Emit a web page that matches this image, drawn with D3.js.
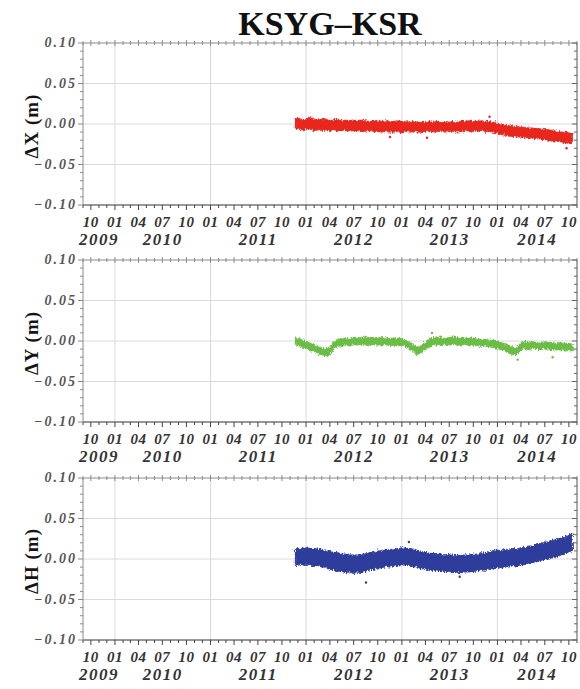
<!DOCTYPE html>
<html lang="en">
<head>
<meta charset="UTF-8">
<script src="https://cdn.jsdelivr.net/npm/d3@7"></script>
<title>KSYG-KSR</title>
<style>
    body { margin: 0; background: #fff; }
</style>
</head>
<body>
<div id="chart"></div>
<script>
// sample dates (about every half month) of the daily solution cloud
const dates = [
    "2011-11-21", "2011-12-01", "2011-12-15",
    "2012-01-01", "2012-01-15", "2012-02-01", "2012-02-15", "2012-03-01", "2012-03-15",
    "2012-04-01", "2012-04-15", "2012-05-01", "2012-05-15", "2012-06-01", "2012-06-15",
    "2012-07-01", "2012-07-15", "2012-08-01", "2012-08-15", "2012-09-01", "2012-09-15",
    "2012-10-01", "2012-10-15", "2012-11-01", "2012-11-15", "2012-12-01", "2012-12-15",
    "2013-01-01", "2013-01-15", "2013-02-01", "2013-02-15", "2013-03-01", "2013-03-15",
    "2013-04-01", "2013-04-15", "2013-05-01", "2013-05-15", "2013-06-01", "2013-06-15",
    "2013-07-01", "2013-07-15", "2013-08-01", "2013-08-15", "2013-09-01", "2013-09-15",
    "2013-10-01", "2013-10-15", "2013-11-01", "2013-11-15", "2013-12-01", "2013-12-15",
    "2014-01-01", "2014-01-15", "2014-02-01", "2014-02-15", "2014-03-01", "2014-03-15",
    "2014-04-01", "2014-04-15", "2014-05-01", "2014-05-15", "2014-06-01", "2014-06-15",
    "2014-07-01", "2014-07-15", "2014-08-01", "2014-08-15", "2014-09-01", "2014-09-15",
    "2014-10-01", "2014-10-14"
];

// lower / upper edge of each cloud, in mm
const dxLo = [-5, -6, -7, -7, -6, -8, -7, -8, -7, -9, -7, -8, -8, -7, -9, -8, -8, -9, -9, -8,
    -10, -9, -10, -9, -10, -10, -9, -11, -9, -10, -9, -10, -10, -9, -9, -10, -9, -9, -10, -9,
    -9, -10, -9, -8, -9, -8, -9, -8, -9, -9, -10, -11, -13, -14, -15, -15, -16, -16, -17, -17,
    -18, -18, -19, -19, -20, -21, -21, -22, -23, -24, -24];
const dxHi = [6, 7, 6, 5, 8, 6, 5, 6, 6, 4, 5, 6, 4, 5, 4, 5, 4, 5, 4, 3,
    4, 4, 3, 4, 3, 3, 4, 3, 3, 2, 3, 3, 2, 2, 3, 2, 3, 2, 3, 2,
    3, 2, 3, 3, 4, 3, 3, 4, 3, 3, 2, 1, -1, -2, -2, -3, -3, -4, -4, -5,
    -5, -6, -6, -7, -7, -8, -9, -10, -10, -11, -12];

const dyLo = [-4, -6, -7, -9, -12, -13, -16, -17, -18, -18, -8, -7, -6, -5, -6, -4, -5, -4, -4, -5,
    -4, -5, -5, -4, -6, -5, -6, -5, -7, -11, -13, -17, -14, -11, -7, -5, -5, -4, -4, -5,
    -4, -5, -5, -4, -6, -5, -6, -7, -6, -7, -8, -9, -11, -13, -15, -17, -17, -11, -9, -11,
    -9, -10, -11, -9, -10, -11, -11, -11, -11, -12, -12];
const dyHi = [4, 3, 2, -1, -3, -4, -7, -9, -9, -9, 0, 2, 3, 3, 3, 5, 4, 4, 5, 4,
    4, 4, 4, 4, 3, 4, 3, 3, 1, -2, -5, -8, -6, -2, 2, 4, 4, 5, 4, 4,
    5, 4, 3, 4, 3, 4, 2, 2, 2, 1, 1, 0, -2, -4, -6, -8, -8, -2, -1, -2,
    -1, -2, -2, -1, -2, -2, -3, -2, -3, -3, -4];

const dhLo = [-7, -8, -6, -8, -7, -9, -8, -10, -10, -13, -13, -15, -15, -17, -16, -18, -16, -17, -15, -13,
    -13, -11, -11, -9, -10, -8, -9, -7, -8, -8, -10, -10, -12, -12, -14, -14, -15, -15, -16, -15,
    -17, -16, -17, -16, -16, -15, -15, -13, -14, -12, -12, -10, -11, -9, -10, -8, -9, -7, -7, -5,
    -5, -2, -2, 0, 0, 2, 3, 5, 6, 9, 10];
const dhHi = [12, 13, 13, 14, 13, 13, 12, 12, 10, 10, 8, 8, 6, 6, 5, 5, 5, 6, 6, 8,
    8, 10, 10, 12, 11, 13, 12, 14, 13, 13, 11, 11, 9, 9, 7, 7, 6, 6, 5, 6,
    4, 5, 4, 5, 5, 6, 6, 8, 7, 9, 9, 11, 10, 12, 11, 13, 12, 14, 14, 16,
    16, 19, 19, 21, 21, 23, 24, 26, 27, 30, 31];

// isolated points away from the cloud, [date, mm]
const dxOut = [["2012-11-17", -16], ["2013-04-07", -17], ["2013-12-02", 9], ["2014-09-22", -30]];
const dyOut = [["2013-04-26", 10], ["2014-03-19", -23], ["2014-07-31", -20]];
const dhOut = [["2012-08-17", -29], ["2013-01-28", 21], ["2013-08-10", -22]];

const xDomain = ["2009-09-01", "2014-11-01"];
const yDomain = [-100, 100];
const yTicks = [-100, -50, 0, 50, 100];
const yearLabels = ["2009", "2010", "2011", "2012", "2013", "2014"];
const titles = ["\u0394X (m)", "\u0394Y (m)", "\u0394H (m)"];
const colors = ["#e8261f", "#6bbd45", "#2f3d9c"];

const width = 580, height = 689;
const left = 83, right = 577, panelH = 162;
const tops = [43, 260, 478];
const serif = "'Liberation Serif', 'Times New Roman', Times, serif";

const parse = d3.timeParse("%Y-%m-%d");
const svg = d3.select("#chart").append("svg")
    .attr("width", width)
    .attr("height", height);

// roughen the cloud edges a little so they read as scattered points
const filt = svg.append("defs").append("filter")
    .attr("id", "rough")
    .attr("x", "-5%").attr("y", "-40%")
    .attr("width", "110%").attr("height", "180%");
filt.append("feTurbulence")
    .attr("type", "fractalNoise")
    .attr("baseFrequency", "1.1 0.4")
    .attr("numOctaves", 2)
    .attr("seed", 3)
    .attr("result", "noise");
filt.append("feDisplacementMap")
    .attr("in", "SourceGraphic")
    .attr("in2", "noise")
    .attr("scale", 5)
    .attr("xChannelSelector", "R")
    .attr("yChannelSelector", "G");

svg.append("text")
    .attr("x", (left + right) / 2)
    .attr("y", 35)
    .attr("text-anchor", "middle")
    .style("font-family", serif)
    .style("font-weight", "bold")
    .style("font-size", "34px")
    .style("fill", "#111")
    .text("KSYG\u2013KSR");

const x = d3.scaleTime().domain(xDomain.map(parse)).range([left, right]);
const y = d3.scaleLinear().domain(yDomain).range([panelH, 0]);

const d0 = x.domain()[0], d1 = x.domain()[1];
const yearLines = d3.timeYear.range(d3.timeYear.ceil(d0), d1);
const months = d3.timeMonth.range(d3.timeMonth.ceil(d0), d3.timeDay.offset(d1, 1));
const quarters = months.filter(d => d.getMonth() % 3 === 0);
const mmTicks = d3.range(yDomain[0], yDomain[1] + 1, 10);

const fmtY = v => (v < 0 ? "\u2212" : "") + Math.abs(v / 1000).toFixed(2);

function labelStyle(sel, size, spacing, color) {
    sel.style("font-family", serif)
        .style("font-style", "italic")
        .style("font-weight", "bold")
        .style("font-size", size + "px")
        .style("letter-spacing", spacing + "px")
        .style("fill", color);
}

function drawPanel(i, lo, hi, out) {
    const g = svg.append("g").attr("transform", `translate(0,${tops[i]})`);

    // grid
    g.selectAll(".vgrid").data(yearLines).enter().append("line")
        .attr("x1", d => x(d)).attr("x2", d => x(d))
        .attr("y1", 0).attr("y2", panelH)
        .attr("stroke", "#dadada").attr("stroke-width", 1);
    g.selectAll(".hgrid").data([-50, 0, 50]).enter().append("line")
        .attr("x1", left).attr("x2", right)
        .attr("y1", d => y(d)).attr("y2", d => y(d))
        .attr("stroke", "#dadada").attr("stroke-width", 1);

    // the cloud of daily solutions
    const rows = dates.map((d, k) => ({ date: parse(d), lo: lo[k], hi: hi[k] }));
    const area = d3.area()
        .x(d => x(d.date))
        .y0(d => y(d.lo))
        .y1(d => y(d.hi));
    g.append("path")
        .datum(rows)
        .attr("d", area)
        .attr("fill", colors[i])
        .attr("stroke", colors[i])
        .attr("stroke-width", 1)
        .attr("stroke-linejoin", "round")
        .attr("filter", "url(#rough)");

    g.selectAll(".out").data(out).enter().append("circle")
        .attr("cx", d => x(parse(d[0])))
        .attr("cy", d => y(d[1]))
        .attr("r", 1.2)
        .attr("fill", colors[i]);

    // frame
    g.append("line").attr("x1", left).attr("x2", right).attr("y1", 0).attr("y2", 0)
        .attr("stroke", "#8a8a8a");
    g.append("line").attr("x1", left).attr("x2", right).attr("y1", panelH).attr("y2", panelH)
        .attr("stroke", "#333");
    g.append("line").attr("x1", left).attr("x2", left).attr("y1", 0).attr("y2", panelH)
        .attr("stroke", "#8a8a8a");
    g.append("line").attr("x1", right).attr("x2", right).attr("y1", 0).attr("y2", panelH)
        .attr("stroke", "#555");

    // month ticks top and bottom
    g.selectAll(".tt").data(months).enter().append("line")
        .attr("x1", d => x(d)).attr("x2", d => x(d))
        .attr("y1", d => d.getMonth() % 3 === 0 ? -3 : -2)
        .attr("y2", d => d.getMonth() % 3 === 0 ? 3 : 2)
        .attr("stroke", "#8a8a8a");
    g.selectAll(".bt").data(months).enter().append("line")
        .attr("x1", d => x(d)).attr("x2", d => x(d))
        .attr("y1", panelH)
        .attr("y2", d => panelH + (d.getMonth() % 3 === 0 ? 5 : 3))
        .attr("stroke", "#444");

    // mm ticks left and right
    g.selectAll(".lt").data(mmTicks).enter().append("line")
        .attr("x1", d => left - (d % 50 === 0 ? 5 : 3)).attr("x2", left)
        .attr("y1", d => y(d)).attr("y2", d => y(d))
        .attr("stroke", "#8a8a8a");
    g.selectAll(".rt").data(mmTicks).enter().append("line")
        .attr("x1", d => right - (d % 50 === 0 ? 5 : 3)).attr("x2", right)
        .attr("y1", d => y(d)).attr("y2", d => y(d))
        .attr("stroke", "#666");

    // labels
    g.selectAll(".yl").data(yTicks).enter().append("text")
        .attr("x", left - 6)
        .attr("y", d => y(d) + 4)
        .attr("text-anchor", "end")
        .call(labelStyle, 14, 2, "#555")
        .text(fmtY);

    g.selectAll(".ml").data(quarters).enter().append("text")
        .attr("x", d => x(d))
        .attr("y", panelH + 22)
        .attr("text-anchor", "middle")
        .call(labelStyle, 15, 0.5, "#333")
        .text(d3.timeFormat("%m"));

    g.selectAll(".yr").data(yearLabels).enter().append("text")
        .attr("x", d => {
            const a = new Date(+d, 0, 1), b = new Date(+d + 1, 0, 1);
            return (x(a < d0 ? d0 : a) + x(b > d1 ? d1 : b)) / 2;
        })
        .attr("y", panelH + 40)
        .attr("text-anchor", "middle")
        .call(labelStyle, 17, 1.5, "#333")
        .text(d => d);

    g.append("text")
        .attr("transform", `translate(31,${panelH / 2 + 2}) rotate(-90)`)
        .attr("text-anchor", "middle")
        .attr("dy", "0.35em")
        .style("font-family", serif)
        .style("font-weight", "bold")
        .style("font-size", "19px")
        .style("letter-spacing", "1px")
        .style("fill", "#151515")
        .text(titles[i]);
}

drawPanel(0, dxLo, dxHi, dxOut);
drawPanel(1, dyLo, dyHi, dyOut);
drawPanel(2, dhLo, dhHi, dhOut);
</script>
</body>
</html>
